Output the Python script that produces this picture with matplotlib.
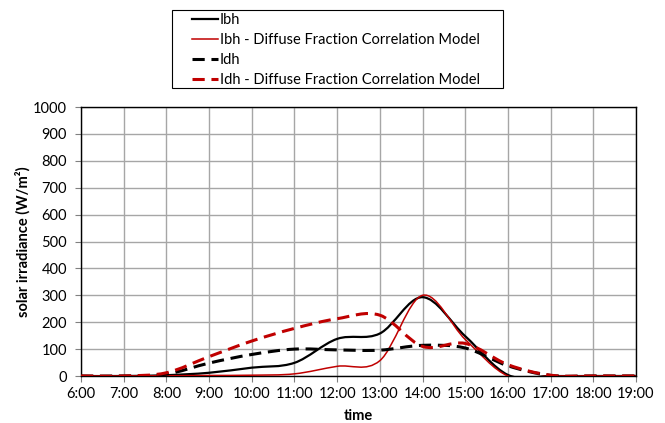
import numpy as np
import matplotlib.pyplot as plt
from matplotlib.path import Path
from matplotlib.patches import PathPatch, Rectangle
from matplotlib.lines import Line2D

plt.rcParams['font.family'] = ['Lato', 'DejaVu Sans']

hours = [6, 7, 8, 9, 10, 11, 12, 13, 14, 15, 16, 17, 18, 19]
hour_labels = ['%d:00' % h for h in hours]

ibh = [0, 0, 3, 12, 31, 49, 138, 158, 293, 148, 4, 0, 0, 0]
ibh_model = [0, 0, 1, 2, 3, 8, 36, 57, 300, 136, 0, 0, 0, 0]
idh = [0, 0, 7, 48, 80, 100, 97, 96, 114, 104, 38, 2, 0, 0]
idh_model = [0, 0, 12, 72, 130, 177, 213, 226, 110, 121, 42, 3, 0, 0]

red = '#c00000'


def smooth_path(x, y):
    # Excel-style smoothed line: cubic bezier through every point
    x = np.asarray(x, float)
    y = np.asarray(y, float)
    n = len(x)
    verts = [(x[0], y[0])]
    codes = [Path.MOVETO]
    for i in range(n - 1):
        i0 = max(i - 1, 0)
        i3 = min(i + 2, n - 1)
        c1 = (x[i] + (x[i + 1] - x[i0]) / 6, y[i] + (y[i + 1] - y[i0]) / 6)
        c2 = (x[i + 1] - (x[i3] - x[i]) / 6, y[i + 1] - (y[i3] - y[i]) / 6)
        verts += [c1, c2, (x[i + 1], y[i + 1])]
        codes += [Path.CURVE4] * 3
    return Path(verts, codes)


fig = plt.figure(figsize=(6.65, 4.23), dpi=100)
ax = fig.add_axes([81 / 665, 1 - 376 / 423, 555 / 665, 269 / 423])

series = [
    (ibh, 'black', 1.6, '-', 'Ibh'),
    (ibh_model, red, 1.1, '-', 'Ibh - Diffuse Fraction Correlation Model'),
    (idh, 'black', 2.2, (0, (4, 2.2)), 'Idh'),
    (idh_model, red, 2.2, (0, (4, 2.2)), 'Idh - Diffuse Fraction Correlation Model'),
]
handles = []
for vals, col, lw, ls, lab in series:
    patch = PathPatch(smooth_path(hours, vals), fill=False, edgecolor=col,
                      linewidth=lw, linestyle=ls, capstyle='butt', zorder=3)
    ax.add_patch(patch)
    handles.append(Line2D([], [], color=col, linewidth=lw, linestyle=ls))

ax.set_xlim(6, 19)
ax.set_ylim(0, 1000)
ax.set_xticks(hours)
ax.set_xticklabels(hour_labels)
ax.set_yticks(range(0, 1001, 100))
ax.grid(True, color='#a6a6a6', linewidth=1)
ax.set_axisbelow(True)
for s in ax.spines.values():
    s.set_color('black')
    s.set_linewidth(1)
ax.tick_params(axis='both', labelsize=10.5, direction='out', length=4,
               color='#808080', pad=4)
ax.tick_params(axis='y', pad=6)
ax.set_xlabel('time', fontsize=10.5, fontweight='bold', labelpad=6)
ax.set_ylabel('solar irradiance (W/m²)', fontsize=10.5, fontweight='bold',
              labelpad=2)

# legend box drawn separately so the padding matches the original
fig.patches.append(Rectangle((172 / 665, 1 - 88 / 423), 331 / 665, 78 / 423,
                             transform=fig.transFigure, fill=False,
                             edgecolor='black', linewidth=0.8))
fig.legend(handles, [s[4] for s in series], loc='upper left',
           bbox_to_anchor=(192 / 665, 1 - 13 / 423), fontsize=10.5,
           frameon=False, handlelength=1.8, handletextpad=0.1,
           labelspacing=0.42, borderpad=0, borderaxespad=0)

fig.savefig('out.png', dpi=100)
